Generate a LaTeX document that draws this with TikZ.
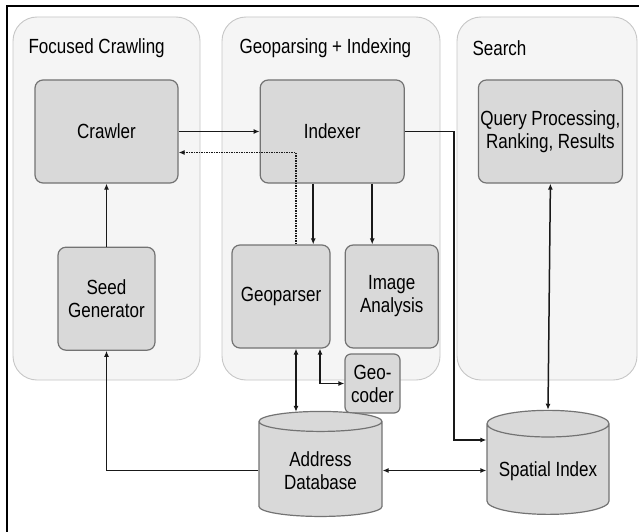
\documentclass[tikz,border=0pt]{standalone}
\usepackage{fontspec}
\setmainfont{Liberation Sans}[FakeStretch=0.83]
\usetikzlibrary{positioning,shapes.geometric,arrows.meta}

\tikzset{
  panel/.style={draw=black!22, fill=black!4, rounded corners=24pt, line width=0.9pt},
  block/.style={draw=black!55, fill=black!15, rounded corners=8pt, line width=1.2pt,
                align=center, inner sep=2pt},
  store/.style={cylinder, shape border rotate=90, aspect=0.26, draw=black!55,
                fill=black!15, line width=1.2pt, align=center, inner sep=2pt},
  link/.style={-{Latex[length=6pt,width=5pt]}, line width=1.5pt, draw=black!90},
  both/.style={link, {Latex[length=6pt,width=5pt]}-{Latex[length=6pt,width=5pt]}},
  back/.style={link, densely dotted, line width=1.3pt}
}

\begin{document}
\begin{tikzpicture}[x=1pt,y=-1pt,font=\fontsize{20.5}{23}\selectfont]
  \useasboundingbox[fill=white] (0,0) rectangle (639,532);
  \draw[line width=2pt] (7,532) -- (7,6) -- (639,6);

  % stages
  \draw[panel] (13,17) rectangle (200,380);
  \draw[panel] (222,17) rectangle (440,380);
  \draw[panel] (457,17) rectangle (637,380);
  \node[anchor=west] (crawltitle) at (25,48) {Focused Crawling};
  \node[anchor=west] (geotitle)   at (236,48) {Geoparsing + Indexing};
  \node[anchor=west] (searchtitle) at (469,48) {Search};

  \node[block, minimum width=143pt, minimum height=103pt] (crawler) at (106.5,131.5) {Crawler};
  \node[block, minimum width=144pt, minimum height=103pt, right=81pt of crawler] (indexer) {Indexer};
  \node[block, minimum width=144pt, minimum height=103pt, right=73pt of indexer] (query)
       {Query Processing,\\Ranking, Results};
  \node[block, minimum width=97pt, minimum height=103pt, below=63pt of crawler] (seed) {Seed\\Generator};
  \node[block, minimum width=98pt, minimum height=103pt] (geoparser) at (281,296.5) {Geoparser};
  \node[block, minimum width=93pt, minimum height=103pt, right=14pt of geoparser] (image)
       {Image\\Analysis};
  \node[block, minimum width=55pt, minimum height=59pt, rounded corners=6pt] (geocoder) at (372.5,383.5)
       {Geo-\\coder};
  \node[store, minimum width=123pt, minimum height=105pt] (address) at (320.5,470.5) {Address\\Database};
  \node[store, minimum width=122pt, minimum height=104pt] (spatial) at (548,471) {Spatial Index};

  \draw[link] (crawler) -- (indexer);
  \draw[back] ([xshift=15pt]geoparser.north) |- ([yshift=-21pt]crawler.east);
  \draw[link] ([xshift=-19pt]indexer.south) -- ([xshift=-19pt]indexer.south |- geoparser.north);
  \draw[link] ([xshift=40pt]indexer.south) -- ([xshift=40pt]indexer.south |- image.north);
  \draw[link] (indexer.east) -- ++(49,0) |- ([yshift=31pt]spatial.west);
  \draw[both] (query.south) -- (spatial.north);
  \draw[link] (seed) -- (crawler);
  \draw[link] (address.west) -| (seed.south);
  \draw[both] ([xshift=15pt]geoparser.south) -- ([xshift=15pt,yshift=-1pt]geoparser.south |- address.north);
  \draw[both] ([xshift=39pt]geoparser.south) |- (geocoder.west);
  \draw[both] (address.east) -- (address.east -| spatial.west);
\end{tikzpicture}
\end{document}
